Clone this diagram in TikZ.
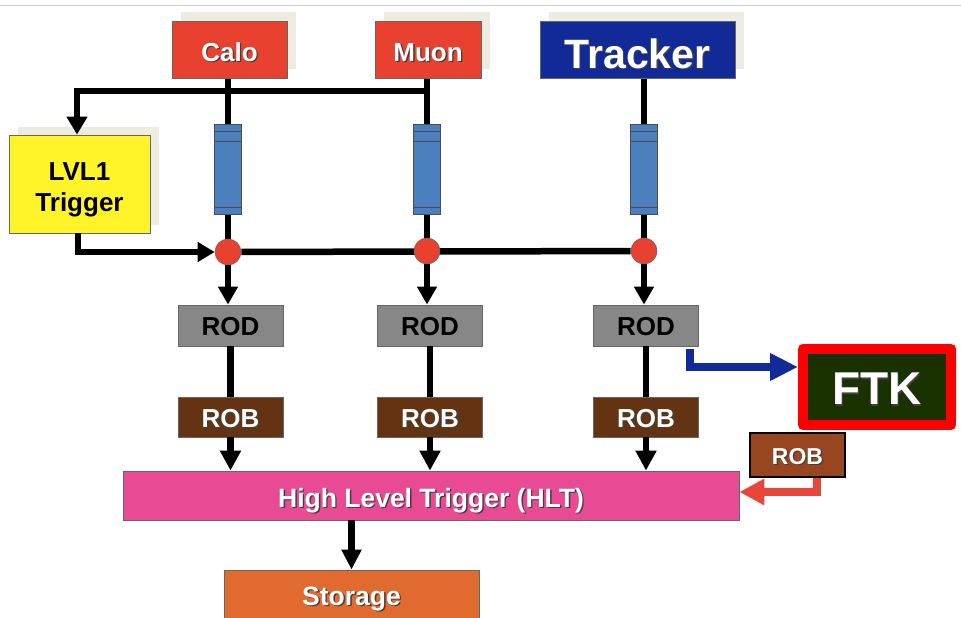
\documentclass[tikz,border=0pt]{standalone}
\usepackage{fontspec}
\setmainfont{Liberation Sans}
\usetikzlibrary{arrows.meta,shadows,calc}
\pgfdeclarelayer{wires}
\pgfsetlayers{wires,main}

\definecolor{calored}{HTML}{E8412F}
\definecolor{trackblue}{HTML}{112A97}
\definecolor{lvlyellow}{HTML}{FFF42A}
\definecolor{pipeblue}{HTML}{4C7FBD}
\definecolor{rodgray}{HTML}{878787}
\definecolor{robbrown}{HTML}{633312}
\definecolor{robrust}{HTML}{97461F}
\definecolor{hltpink}{HTML}{E84A94}
\definecolor{storeorange}{HTML}{E16A2E}
\definecolor{ftkgreen}{HTML}{193200}
\definecolor{shadowbeige}{HTML}{EEEBE1}
\definecolor{arrowred}{HTML}{E8463B}
\definecolor{ftkred}{HTML}{FF0000}

% white bold label with a soft dark drop shadow
\newcommand\wtxt[1]{\leavevmode\rlap{\kern1.4pt\raisebox{-1.4pt}{\textcolor{black!75}{#1}}}\textcolor{white}{#1}}

\tikzset{
  wire/.style={line width=6.5pt, black},
  arr/.style={-{Triangle[width=20pt,length=18pt]}},
  tc/.style={text depth=0pt, text height=#1},
  blk/.style={draw=black!60, line width=0.8pt, inner sep=0pt, align=center,
    font=\bfseries\fontsize{26}{30}\selectfont},
  sh/.style={general shadow={fill=shadowbeige, shadow xshift=8.5pt, shadow yshift=8.5pt}},
  pipe/.style={draw=black!70, line width=0.8pt, fill=pipeblue, minimum width=27pt,
    minimum height=90pt, inner sep=0pt},
  junction/.style={circle, fill=calored, draw=black!60, line width=0.6pt,
    minimum size=26pt, inner sep=0pt},
  rodbox/.style={blk, tc=19.6pt, fill=rodgray, minimum width=105pt, minimum height=41pt},
  robbox/.style={blk, tc=20.6pt, fill=robbrown, minimum width=105pt, minimum height=40pt},
}

\begin{document}
\begin{tikzpicture}[x=1pt,y=-1pt]
\useasboundingbox (0,0) rectangle (961,618);
\draw[black!20, line width=1pt] (0,6) -- (961,6);

% detector sources
\node[blk, sh, tc=23.6pt, fill=calored, minimum width=115pt, minimum height=57pt] (calo) at (229.5,49.5) {\wtxt{Calo}};
\node[blk, sh, tc=23.6pt, fill=calored, minimum width=106pt, minimum height=57pt] (muon) at (428,49.5) {\wtxt{Muon}};
\node[blk, sh, tc=37pt, fill=trackblue, minimum width=195pt, minimum height=57pt,
  font=\bfseries\fontsize{41}{45}\selectfont] (tracker) at (637.5,49.5) {\wtxt{Tracker}};

% level-1 trigger
\node[blk, sh, tc=55.6pt, fill=lvlyellow, minimum width=141pt, minimum height=98pt,
  font=\bfseries\fontsize{26}{31}\selectfont] (lvl1) at (79.5,184) {LVL1\\Trigger};

% pipeline memories
\node[pipe] (pipe1) at (228,169) {};
\node[pipe] (pipe2) at (427,169) {};
\node[pipe] (pipe3) at (644,169) {};
\foreach \p in {pipe1,pipe2,pipe3}{
  \draw[black!70, line width=0.8pt] ([yshift=-8pt]\p.north west) -- ([yshift=-8pt]\p.north east);
  \draw[black!70, line width=0.8pt] ([yshift=-18pt]\p.north west) -- ([yshift=-18pt]\p.north east);
  \draw[black!70, line width=0.8pt] ([yshift=7pt]\p.south west) -- ([yshift=7pt]\p.south east);
}

% accept junctions
\node[junction] (c1) at (228,252) {};
\node[junction] (c2) at (427,251) {};
\node[junction] (c3) at (644,251) {};

% readout drivers and buffers
\node[rodbox] (rod1) at (230.5,325.5) {ROD};
\node[rodbox] (rod2) at (430,325.5) {ROD};
\node[rodbox] (rod3) at (646,325.5) {ROD};
\node[robbox] (rob1) at (230.5,417) {\wtxt{ROB}};
\node[robbox] (rob2) at (430,417) {\wtxt{ROB}};
\node[robbox] (rob3) at (646,417) {\wtxt{ROB}};

% high level trigger and storage
\node[blk, tc=23.6pt, fill=hltpink, minimum width=616pt, minimum height=49pt,
  font=\bfseries\fontsize{26.5}{30}\selectfont] (hlt) at (431,495.5) {\wtxt{High Level Trigger (HLT)}};
\node[blk, tc=14.6pt, fill=storeorange, minimum width=255pt, minimum height=56pt,
  font=\bfseries\fontsize{26.5}{30}\selectfont] (storage) at (351.5,598) {\wtxt{Storage}};

% fast tracker
\node[draw=ftkred, line width=10pt, line join=round, fill=ftkgreen, inner sep=0pt,
  minimum width=148pt, minimum height=76pt, tc=35.9pt,
  general shadow={fill=shadowbeige, shadow xshift=6pt, shadow yshift=4pt},
  font=\bfseries\fontsize{46}{50}\selectfont] (ftk) at (877,387) {\wtxt{FTK}};
\node[draw=black, line width=2pt, fill=robrust, inner sep=0pt, minimum width=95pt,
  minimum height=44pt, tc=18.5pt, font=\bfseries\fontsize{23}{27}\selectfont] (rob4) at (797.5,455) {\wtxt{ROB}};

% connectors
\coordinate (tap) at (427,91);
\begin{pgfonlayer}{wires}
  \draw[wire] (calo.south -| c1) -- (c1);
  \draw[wire] (muon.south -| c2) -- (c2);
  \draw[wire] (tracker.south -| c3) -- (c3);
  \draw[wire] (c1) -- (c3);
\end{pgfonlayer}
\draw[wire, arr] (tap) -| ([xshift=-2.5pt]lvl1.north);
\draw[wire, -{Triangle[width=19pt,length=17pt]}] ([xshift=-1.5pt]lvl1.south) |- (c1.west);

\foreach \c/\d/\b in {c1/rod1/rob1, c2/rod2/rob2, c3/rod3/rob3}{
  \draw[wire, -{Triangle[width=19pt,length=18pt]}] (\c.south) -- (\c.south |- \d.north);
  \draw[wire] (\d.south) -- (\b.north);
  \draw[wire, -{Triangle[width=20pt,length=20pt]}] (\b.south) -- (\b.south |- hlt.north);
}
\draw[wire, -{Triangle[width=19pt,length=20pt]}] (hlt.south -| storage) -- (storage.north);

\coordinate (ftkin) at ([yshift=20pt]ftk.west);
\draw[trackblue, line width=8pt, -{Triangle[width=26pt,length=28pt]}]
  ([xshift=-9pt,yshift=-3pt]rod3.south east) |- (ftkin);
\coordinate (hltin) at ([yshift=3.5pt]hlt.east);
\draw[arrowred, line width=8pt, -{Triangle[width=25pt,length=25pt]}]
  ([xshift=19.5pt]rob4.south) |- (hltin);
\end{tikzpicture}
\end{document}
